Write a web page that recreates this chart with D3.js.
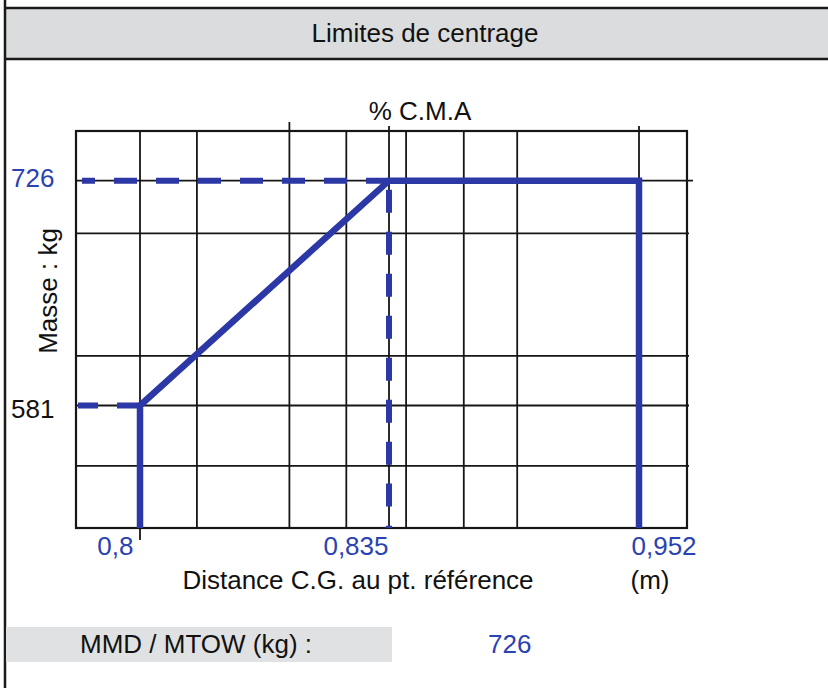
<!DOCTYPE html>
<html>
<head>
<meta charset="utf-8">
<script src="https://cdn.jsdelivr.net/npm/d3@7/dist/d3.min.js"></script>
<style>
  body { margin: 0; background: #fff; }
  svg text { font-family: "Liberation Sans", Arial, sans-serif; font-size: 26px; }
</style>
</head>
<body>
<div id="chart"></div>
<script>
// values
const xTickValues = [0.8, 0.835, 0.952];
const xTickLabels = ["0,8", "0,835", "0,952"];
const massLabels = [726, 581];
const gridX = [0.8, 0.808, 0.821, 0.829, 0.835, 0.843, 0.870, 0.895, 0.952];
const gridXTall = [0.821, 0.835, 0.952];
const gridY = [542, 581, 613, 692, 726];
const envelopeX = [0.8, 0.8, 0.835, 0.952, 0.952];
const envelopeY = [502, 581, 726, 726, 502];
const mtow = 726;

const W = 828, H = 688;
const plot = { left: 76, right: 687, top: 131, bottom: 528 };
const blue = "#2c38a6";
const textBlue = "#2a42b2";

const svg = d3.select("#chart").append("svg")
    .attr("width", W)
    .attr("height", H);

// schematic x axis: not linear between the marked distances
const x = d3.scaleLinear()
    .domain(xTickValues)
    .range([140, 389, 639]);

const y = d3.scaleLinear()
    .domain([502, 758])
    .range([plot.bottom, plot.top]);

// title band
svg.append("rect")
    .attr("x", 5).attr("y", 8)
    .attr("width", W - 5).attr("height", 51)
    .attr("fill", "#dbdcdd");
svg.selectAll("line.band")
    .data([8, 59])
    .enter().append("line")
      .attr("x1", 5).attr("x2", W)
      .attr("y1", d => d).attr("y2", d => d)
      .attr("stroke", "#1a1a1a")
      .attr("stroke-width", 2.5);
svg.append("text")
    .attr("x", 425).attr("y", 42)
    .attr("text-anchor", "middle")
    .attr("fill", "#111")
    .text("Limites de centrage");

// left frame edge
svg.append("line")
    .attr("x1", 5).attr("x2", 5)
    .attr("y1", 0).attr("y2", H)
    .attr("stroke", "#1a1a1a")
    .attr("stroke-width", 2.5);

// grid
const grid = svg.append("g")
    .attr("stroke", "#161616")
    .attr("stroke-width", 1.8);

grid.selectAll("line.gx")
    .data(gridX)
    .enter().append("line")
      .attr("x1", d => x(d)).attr("x2", d => x(d))
      .attr("y1", d => gridXTall.includes(d) ? plot.top - (d === 0.821 ? 9 : 5) : plot.top)
      .attr("y2", d => d === 0.8 ? plot.bottom + 12 : plot.bottom);

grid.selectAll("line.gy")
    .data(gridY)
    .enter().append("line")
      .attr("x1", plot.left)
      .attr("x2", d => d === mtow ? plot.right + 6 : plot.right + 2)
      .attr("y1", d => y(d)).attr("y2", d => y(d));

svg.append("rect")
    .attr("x", plot.left).attr("y", plot.top)
    .attr("width", plot.right - plot.left)
    .attr("height", plot.bottom - plot.top)
    .attr("fill", "none")
    .attr("stroke", "#161616")
    .attr("stroke-width", 2.2);

// dashed reference lines
const dashes = [
    [[x(envelopeX[2]), y(mtow)], [plot.left + 6, y(mtow)], 0],
    [[x(envelopeX[1]), y(envelopeY[1])], [plot.left + 2, y(envelopeY[1])], 0],
    [[x(envelopeX[2]), y(mtow)], [x(envelopeX[2]), plot.bottom], 33]
];
svg.selectAll("line.dash")
    .data(dashes)
    .enter().append("line")
      .attr("x1", d => d[0][0]).attr("y1", d => d[0][1])
      .attr("x2", d => d[1][0]).attr("y2", d => d[1][1])
      .attr("stroke", blue)
      .attr("stroke-width", 6)
      .attr("stroke-dasharray", "23,19")
      .attr("stroke-dashoffset", d => d[2]);

// centrage envelope
const line = d3.line()
    .x(d => x(d[0]))
    .y(d => y(d[1]));

svg.append("path")
    .datum(d3.zip(envelopeX, envelopeY))
    .attr("d", line)
    .attr("fill", "none")
    .attr("stroke", blue)
    .attr("stroke-width", 6.5)
    .attr("stroke-linejoin", "miter");

// x tick labels
const xAxis = d3.axisBottom(x)
    .tickValues(xTickValues)
    .tickSize(0)
    .tickPadding(0)
    .tickFormat((d, i) => xTickLabels[i]);

const ax = svg.append("g")
    .attr("transform", `translate(0,${plot.bottom})`)
    .call(xAxis);
ax.select(".domain").remove();
ax.selectAll("text")
    .attr("y", 27)
    .attr("dy", 0)
    .attr("fill", textBlue)
    .style("font-size", "26px")
    .style("font-family", "'Liberation Sans', Arial, sans-serif")
    .attr("text-anchor", (d, i) => i === 2 ? "start" : "end")
    .attr("x", (d, i) => [-7, -1, -8][i]);

// mass labels
svg.selectAll("text.mass")
    .data(massLabels)
    .enter().append("text")
      .attr("x", 11)
      .attr("y", (d, i) => y(d) + (i === 0 ? 6 : 13))
      .attr("fill", (d, i) => i === 0 ? textBlue : "#111")
      .text(d => d);

svg.append("text")
    .attr("transform", "translate(57,291) rotate(-90)")
    .attr("text-anchor", "middle")
    .attr("fill", "#111")
    .text("Masse : kg");

svg.append("text")
    .attr("x", 420).attr("y", 120)
    .attr("text-anchor", "middle")
    .attr("fill", "#111")
    .text("% C.M.A");

svg.append("text")
    .attr("x", 358).attr("y", 589)
    .attr("text-anchor", "middle")
    .attr("fill", "#111")
    .text("Distance C.G. au pt. référence");

svg.append("text")
    .attr("x", 650).attr("y", 589)
    .attr("text-anchor", "middle")
    .attr("fill", "#111")
    .text("(m)");

// MTOW box
svg.append("rect")
    .attr("x", 6).attr("y", 627)
    .attr("width", 386).attr("height", 35)
    .attr("fill", "#e0e1e2");
svg.append("text")
    .attr("x", 80).attr("y", 653)
    .attr("fill", "#111")
    .text("MMD / MTOW (kg) :");
svg.append("text")
    .attr("x", 488).attr("y", 653)
    .attr("fill", textBlue)
    .text(mtow);
</script>
</body>
</html>
